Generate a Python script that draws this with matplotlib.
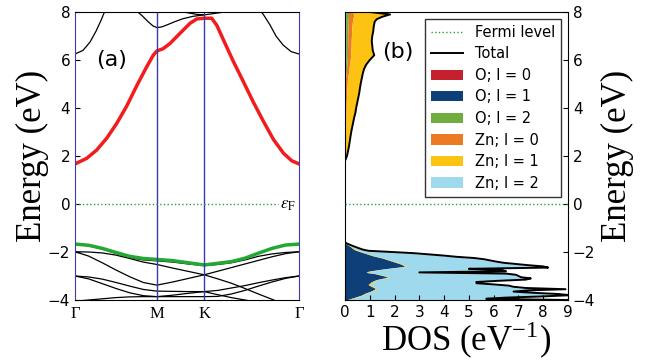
import numpy as np
import matplotlib.pyplot as plt

plt.rcParams['mathtext.fontset'] = 'stix'
plt.rcParams['xtick.direction'] = 'in'
plt.rcParams['ytick.direction'] = 'in'

SERIF = ['Liberation Serif', 'DejaVu Serif']

# ---------------- (a) band structure ----------------
# path Gamma - M - K - Gamma (lengths in 2pi/a units of a hexagonal cell)
k_sym = [0.0, 0.577, 0.910, 1.577]
k_labels = ['Γ', 'M', 'K', 'Γ']

# valence bands, sampled on 7 + 3 + 7 points along the three path segments
vb_top = [-1.67, -1.72, -1.85, -2.02, -2.18, -2.27, -2.31, -2.36, -2.45, -2.54,
          -2.47, -2.40, -2.26, -2.05, -1.85, -1.71, -1.67]
vb_2 = [-1.67, -1.74, -1.88, -2.06, -2.23, -2.33, -2.37, -2.42, -2.50, -2.57,
        -2.52, -2.45, -2.33, -2.18, -2.08, -2.02, -1.99]
vb_3 = [-1.99, -2.00, -2.04, -2.13, -2.27, -2.42, -2.52, -2.67, -2.81, -2.95,
        -3.12, -3.30, -3.52, -3.75, -3.97, -4.20, -4.40]
vb_4 = [-1.99, -2.17, -2.45, -2.75, -3.03, -3.27, -3.38, -3.25, -3.10, -2.95,
        -2.80, -2.65, -2.50, -2.35, -2.20, -2.07, -1.99]
vb_5 = [-3.00, -3.04, -3.13, -3.27, -3.42, -3.56, -3.63, -3.64, -3.65, -3.65,
        -3.60, -3.50, -3.40, -3.28, -3.17, -3.07, -3.00]
vb_6 = [-3.00, -3.12, -3.32, -3.52, -3.70, -3.82, -3.86, -3.80, -3.72, -3.65,
        -3.78, -3.90, -4.00, -4.10, -4.15, -4.15, -4.15]
vb_7 = [-4.05, -4.00, -3.95, -3.90, -3.87, -3.86, -3.86, -3.86, -3.86, -3.86,
        -3.85, -3.75, -3.60, -3.42, -3.25, -3.10, -3.00]

# lowest conduction band
k_cb = [0.000, 0.082, 0.153, 0.223, 0.294, 0.364, 0.434, 0.505, 0.551, 0.577,
        0.620, 0.669, 0.739, 0.810, 0.857, 0.910, 0.962, 0.998, 1.044, 1.114,
        1.185, 1.255, 1.326, 1.396, 1.467, 1.526, 1.577]
cb_low = [1.67, 1.90, 2.25, 2.74, 3.36, 4.08, 4.92, 5.72, 6.20, 6.38,
          6.47, 6.69, 7.11, 7.53, 7.71, 7.74, 7.74, 7.45, 6.85, 5.95,
          5.10, 4.25, 3.45, 2.70, 2.12, 1.80, 1.67]

# higher conduction bands near the top of the window
k_c2a = [0.000, 0.056, 0.106, 0.148, 0.183, 0.211]
c2a = [6.25, 6.40, 6.75, 7.20, 7.65, 8.05]
k_c2b = [1.295, 1.331, 1.373, 1.415, 1.464, 1.521, 1.577]
c2b = [8.15, 7.85, 7.46, 7.00, 6.63, 6.35, 6.25]
k_c3 = [0.422, 0.472, 0.514, 0.549, 0.577, 0.612, 0.655, 0.704, 0.760, 0.831,
        0.910, 0.971, 1.028, 1.077]
c3 = [8.10, 7.85, 7.60, 7.42, 7.35, 7.38, 7.48, 7.60, 7.72, 7.82,
      7.88, 7.93, 7.98, 8.05]
k_c4 = [0.669, 0.739, 0.810, 0.859, 0.910]
c4 = [8.15, 8.03, 7.95, 7.90, 7.88]

# ---------------- (b) projected DOS ----------------
e_vb = np.linspace(-1.60, -4.00, 49)
tot_vb = [0.0, 0.08, 0.2, 0.32, 0.45, 0.58, 0.72, 0.95, 1.9, 2.8,
          3.4, 4.0, 4.5, 5.2, 5.6, 5.85, 6.1, 6.4, 6.9, 7.4,
          8.0, 8.2, 5.0, 6.3, 6.5, 3.0, 6.5, 6.9, 7.0, 7.1,
          7.5, 7.3, 6.2, 5.3, 5.3, 6.0, 6.6, 6.8, 7.3, 8.9,
          7.4, 6.8, 7.6, 8.6, 9.1, 8.0, 6.5, 5.7, 9.0]
o_p_vb = [0.0, 0.02, 0.1, 0.18, 0.25, 0.3, 0.38, 0.5, 0.65, 0.8,
          0.95, 1.1, 1.3, 1.5, 1.65, 1.8, 1.95, 2.1, 2.25, 2.35,
          2.4, 2.0, 1.6, 1.25, 0.95, 0.85, 1.2, 1.4, 1.6, 1.72,
          1.5, 1.27, 1.15, 1.05, 1.0, 0.93, 1.0, 1.1, 1.2, 1.2,
          1.1, 1.0, 0.85, 0.75, 0.65, 0.5, 0.35, 0.2, 0.05]
zn_p_vb = [0.0, 0.02, 0.04, 0.05, 0.06, 0.06, 0.07, 0.07, 0.07, 0.07,
           0.07, 0.07, 0.07, 0.07, 0.07, 0.07, 0.08, 0.08, 0.08, 0.08,
           0.08, 0.07, 0.07, 0.07, 0.07, 0.07, 0.07, 0.07, 0.07, 0.07,
           0.07, 0.07, 0.07, 0.07, 0.07, 0.07, 0.07, 0.07, 0.07, 0.07,
           0.07, 0.07, 0.07, 0.07, 0.07, 0.07, 0.07, 0.07, 0.05]
zn_d_vb = [0.0, 0.01, 0.01, 0.05, 0.09, 0.16, 0.21, 0.33, 1.08, 1.73,
           2.28, 2.73, 3.03, 3.43, 3.68, 3.83, 3.93, 4.08, 4.43, 4.88,
           5.38, 4.93, 4.63, 4.98, 5.38, 5.58, 5.33, 5.33, 5.23, 5.21,
           5.63, 5.66, 4.78, 4.08, 4.13, 4.9, 5.43, 5.53, 5.73, 6.93,
           6.03, 5.63, 6.48, 7.58, 7.98, 7.23, 5.88, 5.33, 8.6]
# no O s, O d or Zn s weight in the valence window
none_vb = np.zeros(len(e_vb))

e_cb = [1.8, 2.0, 2.2, 2.4, 2.6, 2.8, 3.0, 3.2, 3.4, 3.6, 3.8, 4.0, 4.2, 4.4,
        4.6, 4.8, 5.0, 5.2, 5.4, 5.6, 5.8, 6.0, 6.2, 6.4, 6.6, 6.8, 7.0, 7.2,
        7.4, 7.6, 7.7, 7.8, 7.9, 8.0]
tot_cb = [0.0, 0.08, 0.12, 0.16, 0.19, 0.22, 0.25, 0.29, 0.33, 0.37, 0.42, 0.45,
          0.49, 0.53, 0.57, 0.6, 0.63, 0.67, 0.71, 0.76, 0.85, 1.0, 1.18, 1.12,
          1.1, 1.08, 1.1, 1.14, 1.16, 1.2, 1.28, 1.5, 1.82, 1.0]
o_s_cb = [0, 0, 0, 0, 0, 0, 0, 0, 0, 0, 0, 0, 0, 0, 0, 0, 0, 0,
          0.01, 0.02, 0.02, 0.03, 0.03, 0.03, 0.03, 0.03, 0.03, 0.03, 0.03,
          0.03, 0.03, 0.04, 0.04, 0.04]
o_d_cb = [0, 0, 0, 0, 0, 0, 0, 0, 0, 0, 0, 0, 0, 0,
          0.01, 0.01, 0.02, 0.02, 0.03, 0.04, 0.05, 0.06, 0.07, 0.07, 0.08,
          0.08, 0.08, 0.09, 0.09, 0.1, 0.1, 0.1, 0.1, 0.1]
zn_s_cb = [0, 0.01, 0.01, 0.01, 0.02, 0.02, 0.02, 0.03, 0.03, 0.04, 0.04, 0.05,
           0.05, 0.06, 0.06, 0.07, 0.07, 0.08, 0.09, 0.1, 0.11, 0.12, 0.13,
           0.13, 0.14, 0.14, 0.15, 0.15, 0.16, 0.17, 0.18, 0.2, 0.22, 0.15]
zn_p_cb = [0, 0.04, 0.08, 0.12, 0.14, 0.17, 0.2, 0.23, 0.27, 0.3, 0.35, 0.37,
           0.41, 0.44, 0.47, 0.49, 0.51, 0.54, 0.55, 0.57, 0.64, 0.76, 0.92,
           0.86, 0.82, 0.8, 0.81, 0.84, 0.85, 0.87, 0.94, 1.13, 1.43, 0.68]
none_cb = np.zeros(len(e_cb))

pdos_labels = ['O; l = 0', 'O; l = 1', 'O; l = 2', 'Zn; l = 0', 'Zn; l = 1', 'Zn; l = 2']
pdos_colors = ['#c4202e', '#0e3f78', '#6fae3e', '#ec7a22', '#fcc313', '#9fd9ee']

fermi_color = '#2aa32a'
sym_color = '#3b3ba6'

fig = plt.figure(figsize=(6.46, 3.62), dpi=100)
ax1 = fig.add_axes([75/646, 62/362, 224/646, 288/362])
ax2 = fig.add_axes([345/646, 62/362, 223/646, 288/362])

# ---- panel (a)
k_grid = np.concatenate([np.linspace(k_sym[0], k_sym[1], 7),
                         np.linspace(k_sym[1], k_sym[2], 4)[1:],
                         np.linspace(k_sym[2], k_sym[3], 8)[1:]])
for band in [vb_2, vb_3, vb_4, vb_5, vb_6, vb_7]:
    ax1.plot(k_grid, band, color='k', lw=0.9)
for kk, ee in [(k_c2a, c2a), (k_c2b, c2b), (k_c3, c3), (k_c4, c4)]:
    ax1.plot(kk, ee, color='k', lw=0.9)
ax1.plot(k_grid, vb_top, color='#22a833', lw=2.5)
ax1.plot(k_cb, cb_low, color='#f21c1c', lw=2.5)
for ks in k_sym[1:3]:
    ax1.axvline(ks, color=sym_color, lw=1)
for side in ['left', 'right']:
    ax1.spines[side].set_color(sym_color)
ax1.plot([0, 1.43], [0, 0], ls=':', color=fermi_color, lw=1)
ax1.text(1.50, 0, r'$\epsilon_{\rm F}$', fontsize=12, ha='center', va='center')
ax1.text(0.26, 6.0, '(a)', fontsize=16, ha='center', va='center')

ax1.set_xlim(k_sym[0], k_sym[-1])
ax1.set_ylim(-4, 8)
ax1.set_xticks(k_sym)
ax1.set_xticklabels(k_labels, family=SERIF, fontsize=12)
ax1.set_yticks(range(-4, 9, 2))
ax1.tick_params(axis='x', length=0, pad=4)
ax1.tick_params(axis='y', labelsize=11)
ax1.set_ylabel('Energy (eV)', family=SERIF, fontsize=25)
ax1.yaxis.set_label_coords(-0.115, 0.5)

# ---- panel (b)
handles = []
for e, comps in [(e_vb, [none_vb, o_p_vb, none_vb, none_vb, zn_p_vb, zn_d_vb]),
                 (e_cb, [o_s_cb, none_cb, o_d_cb, zn_s_cb, zn_p_cb, none_cb])]:
    base = np.zeros(len(e))
    fills = []
    for comp, col, lab in zip(comps, pdos_colors, pdos_labels):
        top = base + np.asarray(comp)
        fills.append(ax2.fill_betweenx(e, base, top, color=col, lw=0, label=lab))
        base = top
    handles = fills
l_fermi = ax2.axhline(0, ls=':', color=fermi_color, lw=1, label='Fermi level')
l_tot, = ax2.plot(tot_vb, e_vb, color='k', lw=1.4, label='Total')
ax2.plot(tot_cb, e_cb, color='k', lw=1.4)
ax2.text(2.15, 6.35, '(b)', fontsize=16, ha='center', va='center')

ax2.set_xlim(0, 9)
ax2.set_ylim(-4, 8)
ax2.set_xticks(range(0, 10))
ax2.set_yticks(range(-4, 9, 2))
ax2.yaxis.tick_right()
ax2.yaxis.set_label_position('right')
ax2.tick_params(labelsize=11)
ax2.set_ylabel('Energy (eV)', family=SERIF, fontsize=25)
ax2.yaxis.set_label_coords(1.148, 0.5)
ax2.set_xlabel(r'DOS (eV$^{\mathregular{-1}}$)', family=SERIF, fontsize=25)
ax2.xaxis.set_label_coords(0.545, -0.065)

leg = ax2.legend([l_fermi, l_tot] + handles, ['Fermi level', 'Total'] + pdos_labels,
                 loc='upper right', bbox_to_anchor=(0.969, 0.976), borderaxespad=0,
                 fontsize=10.5, handlelength=2.2, labelspacing=0.45,
                 fancybox=False, framealpha=1, edgecolor='#333333')
leg.get_frame().set_linewidth(1)

fig.savefig('out.png', dpi=100)
